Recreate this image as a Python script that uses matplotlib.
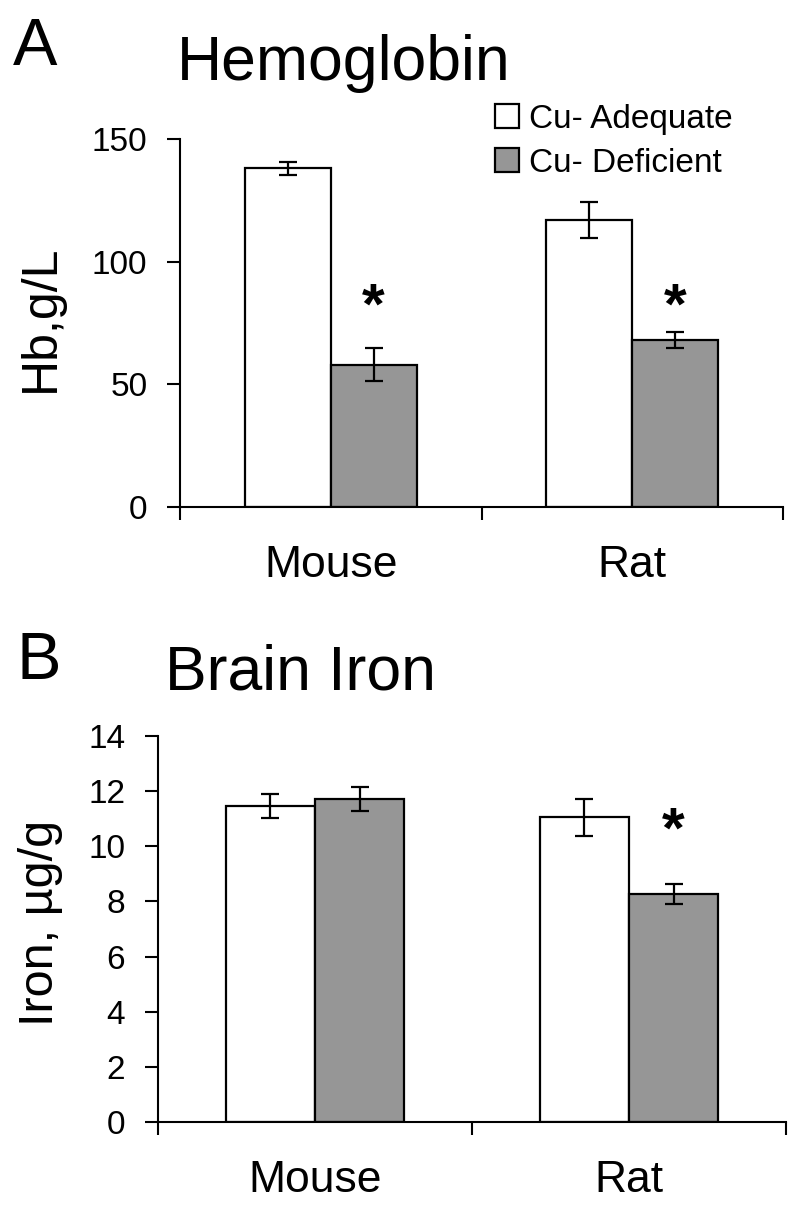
import numpy as np
import matplotlib
matplotlib.use('Agg')
import matplotlib.pyplot as plt

plt.rcParams['font.family'] = ['Liberation Sans', 'DejaVu Sans']

categories = ['Mouse', 'Rat']
series_names = ['Cu- Adequate', 'Cu- Deficient']

# Panel A: hemoglobin, g/L
hb_adequate = [138, 117]
hb_adequate_err = [2.8, 7.3]
hb_deficient = [58, 68]
hb_deficient_err = [6.8, 3.3]
hb_star_y = [81, 81]

# Panel B: brain iron, ug/g
iron_adequate = [11.45, 11.05]
iron_adequate_err = [0.43, 0.67]
iron_deficient = [11.72, 8.27]
iron_deficient_err = [0.44, 0.38]
iron_star_y = [None, 10.5]

colors = ['white', '#969696']
W, H = 800, 1214

fig = plt.figure(figsize=(8, 12.14), dpi=100)


def px_axes(left, right, top, bottom):
    return fig.add_axes([left / W, 1 - bottom / H, (right - left) / W, (bottom - top) / H])


def draw_panel(ax, adequate, adequate_err, deficient, deficient_err, stars, ymax, ystep):
    x = np.arange(len(categories))
    w = 0.285
    err_kw = dict(elinewidth=1.6, capthick=1.6, capsize=6.5, ecolor='black')
    ax.bar(x - w / 2, adequate, w, yerr=adequate_err, color=colors[0],
           edgecolor='black', linewidth=1.6, error_kw=err_kw, label=series_names[0])
    ax.bar(x + w / 2, deficient, w, yerr=deficient_err, color=colors[1],
           edgecolor='black', linewidth=1.6, error_kw=err_kw, label=series_names[1])
    for i, s in enumerate(stars):
        if s is not None:
            ax.text(x[i] + w / 2, s, '*', ha='center', va='center',
                    fontsize=42, fontweight='bold')
    ax.set_xlim(-0.5, len(categories) - 0.5)
    ax.set_ylim(0, ymax)
    ax.set_yticks(np.arange(0, ymax + ystep / 2, ystep))
    ax.set_xticks(np.arange(len(categories) + 1) - 0.5)
    ax.set_xticklabels([])
    ax.set_xticks(x, minor=True)
    ax.set_xticklabels(categories, minor=True, fontsize=32)
    ax.tick_params(axis='x', which='minor', length=0, pad=27)
    ax.tick_params(axis='both', which='major', direction='out', length=9.5,
                   width=1.5, labelsize=24, pad=14)
    for side in ['top', 'right']:
        ax.spines[side].set_visible(False)
    for side in ['left', 'bottom']:
        ax.spines[side].set_linewidth(1.5)
    ax.spines['left'].set_bounds(0, ymax)


ax1 = px_axes(180, 783, 139, 507)
draw_panel(ax1, hb_adequate, hb_adequate_err, hb_deficient, hb_deficient_err,
           hb_star_y, 150, 50)
ax1.legend(loc='upper left', bbox_to_anchor=(495 / W, 1 - 104 / H),
           bbox_transform=fig.transFigure, frameon=False, fontsize=24,
           handlelength=0.72, handleheight=0.72, handletextpad=0.3,
           labelspacing=0.38, borderpad=0, borderaxespad=0)

ax2 = px_axes(158, 786, 736, 1122)
draw_panel(ax2, iron_adequate, iron_adequate_err, iron_deficient, iron_deficient_err,
           iron_star_y, 14, 2)

fig.text(13 / W, 1 - 65 / H, 'A', fontsize=48, va='baseline', ha='left')
fig.text(177 / W, 1 - 80 / H, 'Hemoglobin', fontsize=45, va='baseline', ha='left')
fig.text(17 / W, 1 - 679 / H, 'B', fontsize=48, va='baseline', ha='left')
fig.text(165 / W, 1 - 689 / H, 'Brain Iron', fontsize=45, va='baseline', ha='left')

fig.text(41 / W, 1 - 318 / H, 'Hb,g/L', fontsize=36, rotation=90, ha='center', va='center')
fig.text(41 / W, 1 - 923 / H, 'Iron, µg/g', fontsize=35, rotation=90, ha='center', va='center')

fig.savefig('out.png', dpi=100)
